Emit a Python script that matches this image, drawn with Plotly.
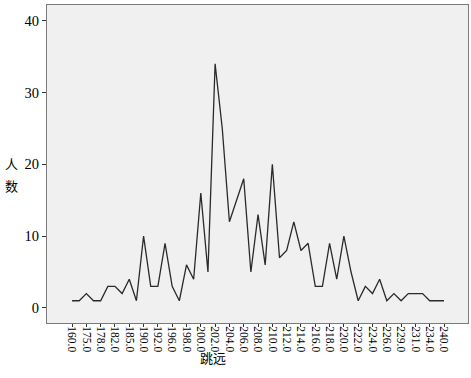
import plotly.graph_objects as go

categories = ["160.0", "170.0", "175.0", "176.0", "178.0", "180.0", "182.0", "184.0", "185.0", "188.0",
              "190.0", "191.0", "192.0", "195.0", "196.0", "197.0", "198.0", "199.0", "200.0", "201.0",
              "202.0", "203.0", "204.0", "205.0", "206.0", "207.0", "208.0", "209.0", "210.0", "211.0",
              "212.0", "213.0", "214.0", "215.0", "216.0", "217.0", "218.0", "219.0", "220.0", "221.0",
              "222.0", "223.0", "224.0", "225.0", "226.0", "228.0", "229.0", "230.0", "231.0", "232.0",
              "234.0", "235.0", "240.0"]
counts = [1, 1, 2, 1, 1, 3, 3, 2, 4, 1, 10, 3, 3, 9, 3, 1, 6, 4, 16, 5, 34, 25, 12, 15, 18, 5, 13, 6, 20, 7,
          8, 12, 8, 9, 3, 3, 9, 4, 10, 5, 1, 3, 2, 4, 1, 2, 1, 2, 2, 2, 1, 1, 1]
tick_labels = categories[::2]
y_ticks = [0, 10, 20, 30, 40]

fig = go.Figure()
fig.add_trace(go.Scatter(x=categories, y=counts, mode="lines",
                         line=dict(color="#2a2a2a", width=1.3), showlegend=False))

x_font = dict(family="Liberation Serif, Times New Roman, serif", size=11.5, color="black")
y_font = dict(family="Liberation Serif, Times New Roman, serif", size=14.5, color="black")
fig.update_layout(
    width=471, height=378,
    margin=dict(l=47, r=3, t=5, b=55),
    paper_bgcolor="white", plot_bgcolor="#F0F0F0",
    xaxis=dict(type="category", categoryorder="array", categoryarray=categories,
               range=[-3.5, 55.35], tickmode="array", tickvals=tick_labels, ticktext=tick_labels,
               tickangle=90, ticks="outside", ticklen=3, tickcolor="#333", tickwidth=1,
               ticklabelstandoff=-3,
               showgrid=False, zeroline=False, showline=True, linecolor="#7a7a7a", linewidth=1,
               mirror=True, tickfont=x_font, automargin=False),
    yaxis=dict(range=[-2.1, 42.2], tickmode="array", tickvals=y_ticks,
               ticks="outside", ticklen=4, tickcolor="#333", tickwidth=1,
               showgrid=False, zeroline=False, showline=True, linecolor="#7a7a7a", linewidth=1,
               mirror=True, tickfont=y_font, automargin=False),
    annotations=[
        dict(text="人", xref="paper", yref="paper", x=(4 - 47) / 421, y=(323 - 163) / 318,
             xanchor="left", borderpad=0, showarrow=False,
             font=dict(family="Noto Sans CJK SC", size=13, color="black")),
        dict(text="数", xref="paper", yref="paper", x=(4 - 47) / 421, y=(323 - 185) / 318,
             xanchor="left", borderpad=0, showarrow=False,
             font=dict(family="Noto Sans CJK SC", size=13, color="black")),
        dict(text="跳远", xref="paper", yref="paper", x=(213 - 47) / 421, y=(323 - 369) / 318,
             showarrow=False, font=dict(family="Noto Sans CJK SC", size=13, color="black")),
    ],
)

fig.write_html("out.html", config={"displayModeBar": False},
               post_script="document.body.style.margin='0';document.body.style.overflow='hidden';")
